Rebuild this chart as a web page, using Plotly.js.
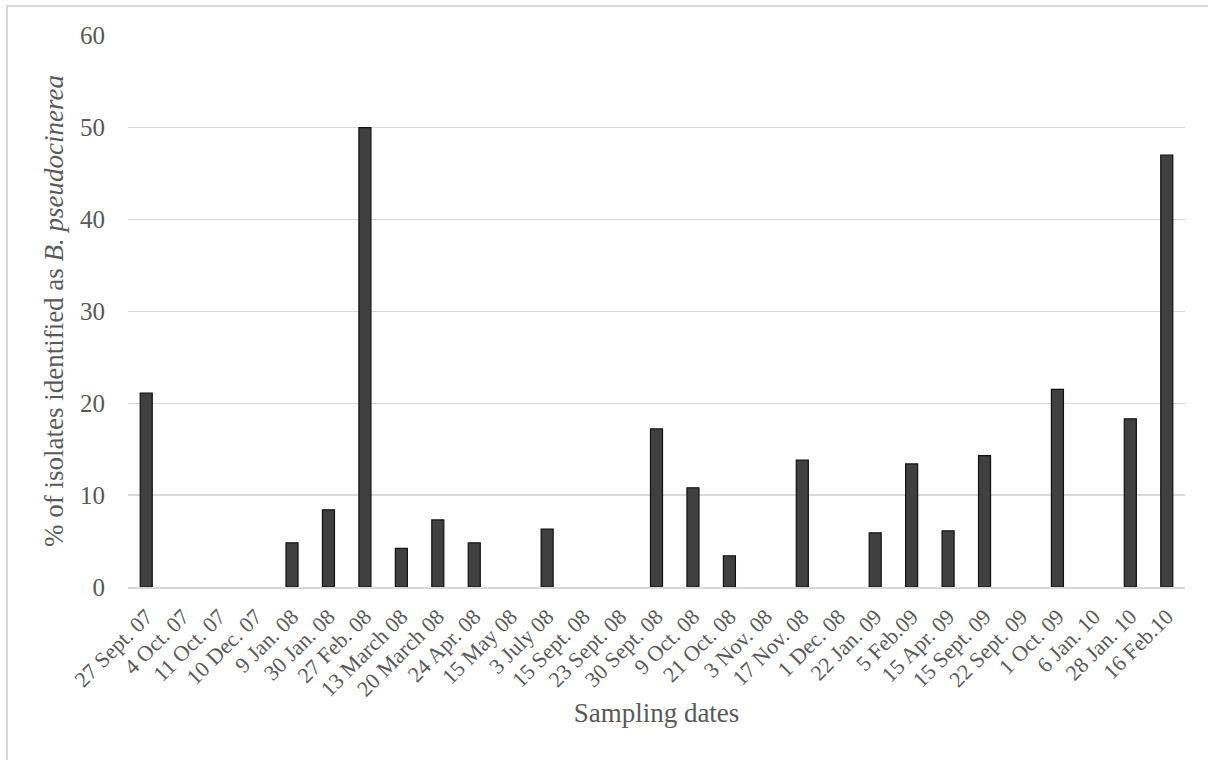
<!DOCTYPE html>
<html>
<head>
<meta charset="utf-8">
<script src="https://cdn.plot.ly/plotly-3.0.1.min.js"></script>
<style>
html,body{margin:0;padding:0;background:#fff;overflow:hidden;}
#frame{position:absolute;left:6px;top:5px;width:1400px;height:1000px;border-left:2px solid #d9d9d9;border-top:2px solid #d9d9d9;pointer-events:none;z-index:5;}
#chart{position:absolute;left:0;top:0;width:1208px;height:760px;}
</style>
</head>
<body>
<div id="chart"></div>
<div id="frame"></div>
<script>
const categories = ["27 Sept. 07","4 Oct. 07","11 Oct. 07","10 Dec. 07","9 Jan. 08","30 Jan. 08","27 Feb. 08","13 March 08","20 March 08","24 Apr. 08","15 May 08","3 July 08","15 Sept. 08","23 Sept. 08","30 Sept. 08","9 Oct. 08","21 Oct. 08","3 Nov. 08","17 Nov. 08","1 Dec. 08","22 Jan. 09","5 Feb.09","15 Apr. 09","15 Sept. 09","22 Sept. 09","1 Oct. 09","6 Jan. 10","28 Jan. 10","16 Feb.10"];
const percentValues = [21.1,0,0,0,4.8,8.4,50,4.2,7.3,4.8,0,6.3,0,0,17.2,10.8,3.4,0,13.8,0,5.9,13.4,6.1,14.3,0,21.5,0,18.3,47.0];
const yTickValues = [0,10,20,30,40,50,60];

const font = "Liberation Serif, Times New Roman, serif";
const trace = {
  type: 'bar',
  x: categories,
  y: percentValues,
  width: 0.33,
  marker: {
    color: '#404040',
    line: {color: '#111111', width: percentValues.map(v => v > 0 ? 1.2 : 0)}
  },
  hoverinfo: 'x+y'
};
const layout = {
  width: 1208, height: 760,
  margin: {l: 128, r: 23, t: 35, b: 173},
  paper_bgcolor: '#ffffff', plot_bgcolor: '#ffffff',
  showlegend: false,
  font: {family: font, color: '#595959'},
  xaxis: {
    type: 'category',
    tickangle: -45,
    tickfont: {family: font, size: 22, color: '#595959'},
    showgrid: false,
    showline: true, linecolor: '#d9d9d9', linewidth: 2,
    ticks: '',
    ticklabelstandoff: 6,
    title: {text: 'Sampling dates', font: {family: font, size: 27, color: '#595959'}, standoff: 3},
    automargin: false
  },
  yaxis: {
    range: [0, 60.08],
    tickvals: yTickValues,
    tickfont: {family: font, size: 25, color: '#595959'},
    showgrid: true, gridcolor: '#d9d9d9', gridwidth: 1.5,
    zeroline: false,
    showline: false,
    ticks: '',
    ticklabelstandoff: 22,
    title: {text: '% of isolates identified as <i>B. pseudocinerea</i>', font: {family: font, size: 27, color: '#595959'}, standoff: 8},
    automargin: false
  }
};
Plotly.newPlot('chart', [trace], layout, {displayModeBar: false, staticPlot: true});
</script>
</body>
</html>
